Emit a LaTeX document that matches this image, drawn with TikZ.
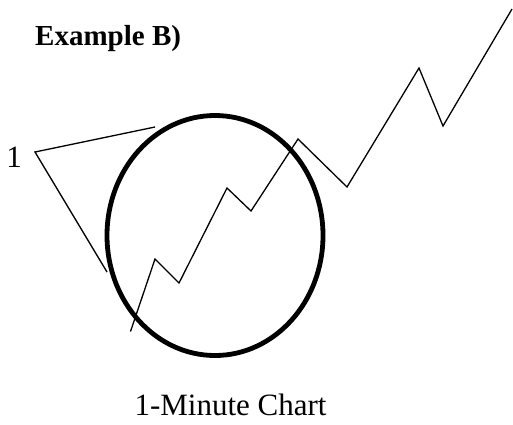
\documentclass[tikz,border=0pt]{standalone}
\usepackage{fontspec}
\setmainfont{Liberation Serif}
\usetikzlibrary{
  positioning,
  shapes.geometric
}
\tikzset{
  chart/.style={ x=1pt, y=-1pt },
  pen/.style={
    line width=1.3pt,
    line join=miter,
    draw=black
  },
  ring/.style={
    ellipse,
    draw=black,
    line width=4.8pt,
    inner sep=0pt,
    minimum width=216pt,
    minimum height=240pt
  },
  caption/.style={
    anchor=base,
    inner sep=0pt,
    font=\fontsize{31}{36}\selectfont
  },
  heading/.style={
    anchor=base west,
    inner sep=0pt,
    font=\fontsize{29}{33}\selectfont\bfseries
  }
}

\begin{document}
\begin{tikzpicture}[chart]
  \useasboundingbox (0,0) rectangle (513,424);

  \node[heading] (title) at (35,45) {Example B)};
  \node[caption] (count) at (14,167) {1};
  \node[caption] (minute) at (230.5,415) {1-Minute Chart};

  % the circled part of the move
  \node[ring] (zoom) at (215,235.5) {};

  % pointer from the wave count
  \coordinate (apex) at (35,152);
  \coordinate (upper) at (155,127);
  \coordinate (lower) at (107,272);
  \draw[pen] (upper) -- (apex) -- (lower);

  % price swings
  \coordinate (p0) at (130.5,331.5);
  \coordinate (p1) at (155,259);
  \coordinate (p2) at (179,283);
  \coordinate (p3) at (227,188);
  \coordinate (p4) at (251,211);
  \coordinate (p5) at (298,139);
  \coordinate (p6) at (347,187);
  \coordinate (p7) at (419,68);
  \coordinate (p8) at (443,126);
  \coordinate (p9) at (512,9);
  \draw[pen] (p0) -- (p1) -- (p2) -- (p3) -- (p4) -- (p5)
    -- (p6) -- (p7) -- (p8) -- (p9);
\end{tikzpicture}
\end{document}
